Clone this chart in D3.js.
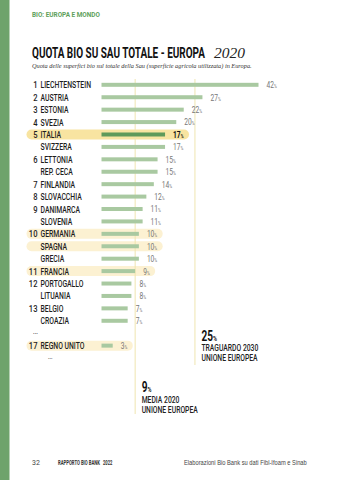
<!DOCTYPE html>
<html>
<head>
<meta charset="utf-8">
<script src="https://cdn.jsdelivr.net/npm/d3@7"></script>
<style>
  body { margin: 0; background: #fff; }
  svg { display: block; }
</style>
</head>
<body>
<div id="chart"></div>
<script>
'use strict';

// --- data ---
const ranks = ['1', '2', '3', '4', '5', '', '6', '', '7', '8', '9', '', '10', '', '', '11', '12', '', '13', '', '...', '17', ''];
const countries = ['LIECHTENSTEIN', 'AUSTRIA', 'ESTONIA', 'SVEZIA', 'ITALIA', 'SVIZZERA', 'LETTONIA', 'REP. CECA',
    'FINLANDIA', 'SLOVACCHIA', 'DANIMARCA', 'SLOVENIA', 'GERMANIA', 'SPAGNA', 'GRECIA', 'FRANCIA',
    'PORTOGALLO', 'LITUANIA', 'BELGIO', 'CROAZIA', '', 'REGNO UNITO', '...'];
const values = [42, 27, 22, 20, 17, 17, 15, 15, 14, 12, 11, 11, 10, 10, 10, 9, 8, 8, 7, 7, null, 3, null];
const highlighted = ['ITALIA', 'GERMANIA', 'SPAGNA', 'FRANCIA', 'REGNO UNITO'];
const focus = 'ITALIA';

const refValues = [25, 9];
const refLine1 = ['TRAGUARDO 2030', 'MEDIA 2020'];
const refLine2 = ['UNIONE EUROPEA', 'UNIONE EUROPEA'];

const W = 340, H = 480;
const condFont = "'Roboto', 'DejaVu Sans', sans-serif";
const serifFont = "'Liberation Serif', 'DejaVu Serif', serif";

const svg = d3.select('#chart').append('svg')
    .attr('width', W).attr('height', H);

// squeeze text horizontally (condensed look) with a transform,
// either by a factor or to a target width
function squeeze(sel, factor, width) {
    sel.each(function () {
        const t = d3.select(this);
        const len = this.getComputedTextLength() || 1;
        const f = width ? width / len : factor;
        const tx = +t.attr('x') || 0, ty = +t.attr('y') || 0;
        t.attr('x', 0).attr('y', 0)
            .attr('transform', 'translate(' + tx + ',' + ty + ') scale(' + f + ',1)');
        this.__w = len * f;
    });
}

// green page strip
svg.append('rect').attr('x', 0).attr('y', 0).attr('width', 9.5).attr('height', H).attr('fill', '#6ea36b');

// header + titles
svg.append('text').attr('x', 32).attr('y', 17)
    .style('font-family', condFont).style('font-weight', 700).style('font-size', '8px')
    .attr('fill', '#5e9f5b').text('BIO: EUROPA E MONDO').call(squeeze, null, 68);

svg.append('text').attr('x', 32).attr('y', 57.5)
    .style('font-family', condFont).style('font-weight', 700).style('font-size', '15px')
    .attr('fill', '#111').text('QUOTA BIO SU SAU TOTALE - EUROPA').call(squeeze, null, 173);

svg.append('text').attr('x', 214).attr('y', 57.5)
    .style('font-family', serifFont).style('font-style', 'italic').style('font-size', '14px')
    .attr('fill', '#222').text('2020').call(squeeze, null, 31);

svg.append('text').attr('x', 32).attr('y', 68)
    .style('font-family', serifFont).style('font-style', 'italic').style('font-size', '6.3px')
    .attr('fill', '#333')
    .text('Quota delle superfici bio sul totale della Sau (superficie agricola utilizzata) in Europa.')
    .call(squeeze, null, 220);

// --- scales ---
const rows = countries.map((c, i) => ({ i: i, rank: ranks[i], name: c, value: values[i] }));

const x = d3.scaleLinear().domain([0, 42]).range([101.5, 258.5]);
const y = d3.scaleBand().domain(rows.map(d => d.i)).range([78.6, 78.6 + 23 * 12.42]);
const cy = d => y(d.i) + y.bandwidth() / 2;

const gHi = svg.append('g');
const gRef = svg.append('g');
const gBars = svg.append('g');
const gText = svg.append('g');

// reference lines
const refs = refValues.map((v, k) => ({ v: v, l1: refLine1[k], l2: refLine2[k] }));
const refBottom = [365, 414];
const refTop = [340.5, 392];

gRef.selectAll('line.ref').data(refs).enter().append('line')
    .attr('x1', d => x(d.v)).attr('x2', d => x(d.v))
    .attr('y1', 79).attr('y2', (d, k) => refBottom[k])
    .attr('stroke', '#efe5b0').attr('stroke-width', 1);

const refG = gRef.selectAll('g.refnote').data(refs).enter().append('g')
    .attr('transform', (d, k) => 'translate(' + (x(d.v) + 6.5) + ',' + refTop[k] + ')');

const big = refG.append('text').attr('y', 0)
    .style('font-family', condFont).style('font-weight', 700).style('font-size', '14px').attr('fill', '#111');
big.append('tspan').text(d => d.v);
big.append('tspan').style('font-size', '7.5px').text('%');
squeeze(big, 0.72);

refG.append('text').attr('y', 10.5)
    .style('font-family', condFont).style('font-weight', 500).style('font-size', '8.5px').attr('fill', '#222')
    .text(d => d.l1).call(squeeze, 0.8);
refG.append('text').attr('y', 20.5)
    .style('font-family', condFont).style('font-weight', 500).style('font-size', '8.5px').attr('fill', '#222')
    .text(d => d.l2).call(squeeze, 0.8);

// bars
const barRows = rows.filter(d => d.value !== null);

gBars.selectAll('rect.bar').data(barRows).enter().append('rect')
    .attr('x', x(0))
    .attr('y', d => cy(d) - 2)
    .attr('width', d => x(d.value) - x(0))
    .attr('height', 4)
    .attr('fill', d => d.name === focus ? '#5f9a5a' : '#a9c9a1');

// value labels
const vals = gText.selectAll('text.val').data(barRows).enter().append('text')
    .attr('x', d => x(d.value) + 8)
    .attr('y', d => cy(d) + 3.4)
    .style('font-family', condFont)
    .style('font-weight', d => d.name === focus ? 700 : 400)
    .style('font-size', '9.5px')
    .attr('fill', d => d.name === focus ? '#111' : '#777');
vals.append('tspan').text(d => d.value);
vals.append('tspan').style('font-size', '5.5px').text('%');
squeeze(vals, 0.7);

// ranks + names ("..." rows are the gaps in the ranking)
const isDots = s => s === '...';

gText.selectAll('text.rank').data(rows).enter().append('text')
    .attr('x', d => isDots(d.rank) ? 33 : 37.5)
    .attr('y', d => cy(d) + (isDots(d.rank) ? 0.5 : 3.5))
    .attr('text-anchor', d => isDots(d.rank) ? 'start' : 'end')
    .style('font-family', condFont).style('font-weight', 500)
    .style('font-size', d => isDots(d.rank) ? '7.5px' : '9.5px')
    .attr('fill', '#1e1e1e')
    .text(d => d.rank)
    .call(squeeze, 0.8);

gText.selectAll('text.name').data(rows).enter().append('text')
    .attr('x', d => isDots(d.name) ? 48 : 40.5)
    .attr('y', d => cy(d) + (isDots(d.name) ? 0.5 : 3.5))
    .style('font-family', condFont).style('font-weight', 500)
    .style('font-size', d => isDots(d.name) ? '7.5px' : '9.5px')
    .attr('fill', '#1e1e1e')
    .text(d => d.name)
    .call(squeeze, 0.72);

// highlight pills sized to the value label
gHi.selectAll('rect.hi').data(vals.filter(d => highlighted.includes(d.name)).nodes()).enter().append('rect')
    .attr('x', 26.5)
    .attr('y', n => cy(n.__data__) - 5)
    .attr('width', n => x(n.__data__.value) + 8 + n.__w + 5.5 - 26.5)
    .attr('height', 10)
    .attr('rx', 5)
    .attr('fill', n => n.__data__.name === focus ? '#f8e4a1' : '#fcf1d2');

// footer
const foot = svg.append('g').style('font-family', condFont);
foot.append('text').attr('x', 32).attr('y', 465).style('font-size', '7px').attr('fill', '#444').text('32');
foot.append('text').attr('x', 58).attr('y', 465).style('font-size', '7px').style('font-weight', 700)
    .attr('fill', '#333').text('RAPPORTO BIO BANK').call(squeeze, null, 42);
foot.append('text').attr('x', 103).attr('y', 465).style('font-size', '7px').style('font-weight', 700)
    .attr('fill', '#333').text('2022').call(squeeze, null, 9.5);
foot.append('text').attr('x', 184).attr('y', 465)
    .style('font-family', "'Liberation Sans', 'Inter', sans-serif").style('font-size', '7px')
    .attr('fill', '#444').text('Elaborazioni Bio Bank su dati Fibl-Ifoam e Sinab').call(squeeze, null, 123);
</script>
</body>
</html>
